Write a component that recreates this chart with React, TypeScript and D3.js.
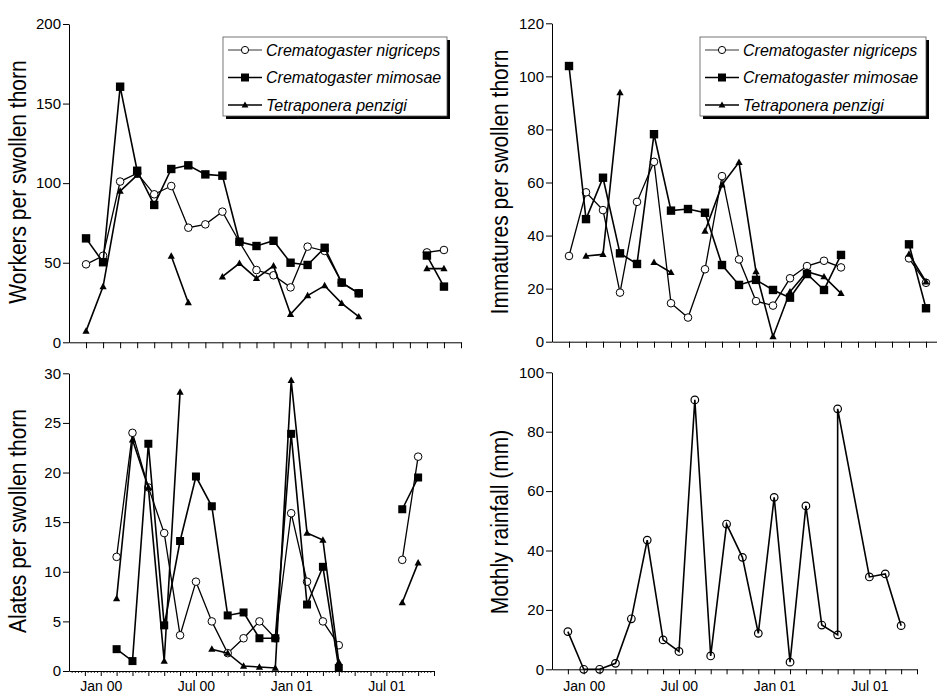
import React, { useEffect, useRef } from 'react';
import * as d3 from 'd3';

// x = month index: 0 = Dec 99, 1 = Jan 00 ... 21 = Sep 01 (null = no sample)
const months = d3.range(0, 22);
const tickMonths = d3.range(0, 23);
const labelMonths = [1, 7, 13, 19];
const labelTexts = ['Jan 00', 'Jul 00', 'Jan 01', 'Jul 01'];

const seriesNames = ['Crematogaster nigriceps', 'Crematogaster mimosae', 'Tetraponera penzigi'];

// workers per swollen thorn
const nigWorkers = [49, 54.4, 101, 106.2, 93, 98.2, 72, 74.1, 82.1, 63, 45.4, 42.1, 34.5, 60.1, 57.4, 37.5, 30.8, null, null, null, 56.5, 58];
const mimWorkers = [65.3, 50.3, 160.6, 107.8, 86.3, 108.9, 111.2, 105.5, 104.7, 63.2, 60.5, 63.8, 50, 48.6, 59.4, 37.5, 30.8, null, null, null, 54.5, 35];
const penWorkers = [7, 35, 95, 105, null, 54.2, 24.9, null, 41.2, 49.6, 40.2, 48.1, 17.6, 29.3, 35.6, 24.5, 16.1, null, null, null, 46.3, 46.3];

// immatures per swollen thorn
const nigImm = [32.3, 56.3, 49.6, 18.5, 52.7, 67.8, 14.5, 9.1, 27.3, 62.4, 31, 15.3, 13.6, 23.9, 28.5, 30.5, 28, null, null, null, 31.4, 22.2];
const mimImm = [103.9, 46.2, 61.8, 33.3, 29.3, 78.2, 49.4, 50, 48.6, 28.9, 21.4, 23.3, 19.5, 16.6, 25.5, 19.5, 32.7, null, null, null, 36.7, 12.6];
const penImm = [null, 32.3, 32.9, 93.9, null, 29.9, 26.1, null, 41.7, 59.1, 67.6, 26.4, 1.9, 18.8, 26.4, 24.5, 18.2, null, null, null, 33, 22.6];

// alates per swollen thorn
const nigAlates = [null, null, 11.5, 24, 18.5, 13.9, 3.6, 9, 5, 1.8, 3.3, 5, 3.3, 15.9, 9, 5, 2.6, null, null, null, 11.2, 21.6];
const mimAlates = [null, null, 2.2, 1, 22.9, 4.6, 13.1, 19.6, 16.6, 5.6, 5.9, 3.3, 3.3, 23.9, 6.7, 10.5, 0.3, null, null, null, 16.3, 19.5];
const penAlates = [null, null, 7.3, 23.3, 18.5, 1, 28.1, null, 2.2, 1.8, 0.5, 0.4, 0.3, 29.3, 13.9, 13.2, 0.9, null, null, null, 6.9, 10.9];

// monthly rainfall (mm)
const rainMonths = [0, 1, 2, 3, 4, 5, 6, 7, 8, 9, 10, 11, 12, 13, 14, 15, 16, 17, 17, 19, 20, 21];
const rainfall = [12.7, 0, 0, 2, 17, 43.5, 9.9, 6, 90.7, 4.5, 48.9, 37.7, 12.1, 57.9, 2.4, 55, 14.9, 11.6, 87.7, 31.1, 32.1, 14.7];

const FONT = '"Liberation Sans", Arial, Helvetica, sans-serif';

const App = () => {
  const svgRef = useRef(null);

  useEffect(() => {
    const svg = d3.select(svgRef.current);
    svg.selectAll('*').remove();

    const drawMarker = (g, kind, x, y, s) => {
      if (kind === 'circle') {
        g.append('circle').attr('cx', x).attr('cy', y).attr('r', s)
          .attr('fill', 'white').attr('stroke', 'black').attr('stroke-width', 1);
      } else if (kind === 'ring') {
        g.append('circle').attr('cx', x).attr('cy', y).attr('r', s)
          .attr('fill', 'none').attr('stroke', 'black').attr('stroke-width', 1.2);
      } else if (kind === 'square') {
        g.append('rect').attr('x', x - s).attr('y', y - s).attr('width', 2 * s).attr('height', 2 * s)
          .attr('fill', 'black');
      } else {
        g.append('path')
          .attr('d', `M${x},${y - s}L${x + s * 0.95},${y + s * 0.7}L${x - s * 0.95},${y + s * 0.7}Z`)
          .attr('fill', 'black');
      }
    };

    const panel = (cfg) => {
      const x = d3.scaleLinear().domain([-1, 22]).range(cfg.xr);
      const y = d3.scaleLinear().domain([0, cfg.ymax]).range(cfg.yr);
      const g = svg.append('g');

      // y axis
      const ya = g.append('g')
        .attr('transform', `translate(${cfg.xr[0]},0)`)
        .call(d3.axisLeft(y).tickValues(d3.range(0, cfg.ymax + 1, cfg.ystep)).tickSize(6).tickSizeOuter(0).tickPadding(2));
      ya.selectAll('text').attr('font-size', 15).attr('font-family', FONT).attr('fill', 'black');

      // x axis
      const labelMap = new Map(labelMonths.map((m, i) => [m, labelTexts[i]]));
      const xa = g.append('g')
        .attr('transform', `translate(0,${cfg.yr[0]})`)
        .call(d3.axisBottom(x).tickValues(tickMonths).tickSize(cfg.tickLen).tickSizeOuter(0)
          .tickPadding(cfg.labelPad)
          .tickFormat(d => (cfg.labels ? labelMap.get(d) || '' : '')));
      xa.selectAll('text').attr('font-size', 14).attr('font-family', FONT).attr('fill', 'black');
      g.selectAll('.domain').attr('stroke', 'black');

      if (cfg.minor) {
        const minor = d3.range(-1, 22.01, 0.2).filter(v => Math.abs(v - Math.round(v)) > 0.01);
        g.append('g').selectAll('line').data(minor).enter().append('line')
          .attr('x1', d => x(d)).attr('x2', d => x(d))
          .attr('y1', cfg.yr[0]).attr('y2', cfg.yr[0] + 2)
          .attr('stroke', 'black').attr('stroke-width', 0.8);
      }

      // title
      g.append('text')
        .attr('transform', `translate(${cfg.tx},${cfg.ty}) rotate(-90) scale(1,1.1)`)
        .attr('text-anchor', 'middle')
        .attr('font-size', 21).attr('font-family', FONT)
        .text(cfg.title);

      // series
      cfg.series.forEach(s => {
        const pts = s.xs.map((m, i) => ({ m, v: s.values[i] }));
        const line = d3.line().defined(d => d.v != null).x(d => x(d.m)).y(d => y(d.v));
        g.append('path').datum(pts).attr('d', line)
          .attr('fill', 'none').attr('stroke', 'black').attr('stroke-width', s.width);
        const mg = g.append('g');
        pts.filter(d => d.v != null).forEach(d => drawMarker(mg, s.marker, x(d.m), y(d.v), s.size));
      });

      // legend
      if (cfg.legend) {
        const [lx, ly, lw, lh] = cfg.legend;
        g.append('rect').attr('x', lx + 3).attr('y', ly + 3).attr('width', lw).attr('height', lh).attr('fill', 'black');
        g.append('rect').attr('x', lx).attr('y', ly).attr('width', lw).attr('height', lh)
          .attr('fill', 'white').attr('stroke', '#555').attr('stroke-width', 0.8);
        const kinds = ['circle', 'square', 'triangle'];
        const widths = [0.8, 1.6, 1.6];
        const sizes = [3.6, 4, 3.6];
        seriesNames.forEach((name, i) => {
          const ry = ly + 13 + i * 27.5;
          g.append('line').attr('x1', lx + 5).attr('x2', lx + 39).attr('y1', ry).attr('y2', ry)
            .attr('stroke', 'black').attr('stroke-width', widths[i]);
          drawMarker(g, kinds[i], lx + 22, ry, sizes[i]);
          g.append('text').attr('x', lx + 43).attr('y', ry + 5.5)
            .attr('font-size', 16).attr('font-style', 'italic').attr('font-family', FONT)
            .text(name);
        });
      }
    };

    const antSeries = (a, b, c, sq) => [
      { values: a, xs: months, marker: 'circle', size: 3.8, width: 1.3 },
      { values: b, xs: months, marker: 'square', size: sq, width: 1.6 },
      { values: c, xs: months, marker: 'triangle', size: 3.8, width: 1.6 },
    ];

    panel({
      xr: [69, 461], yr: [342.3, 24], ymax: 200, ystep: 50, tickLen: 6, labelPad: 3, labels: false,
      title: 'Workers per swollen thorn', tx: 26, ty: 182,
      series: antSeries(nigWorkers, mimWorkers, penWorkers, 4.2),
      legend: [223, 37, 224, 79],
    });
    panel({
      xr: [552, 943], yr: [341.7, 23.3], ymax: 120, ystep: 20, tickLen: 6, labelPad: 3, labels: false,
      title: 'Immatures per swollen thorn', tx: 508, ty: 182,
      series: antSeries(nigImm, mimImm, penImm, 4.2),
      legend: [700, 37, 226, 79],
    });
    panel({
      xr: [69, 434], yr: [671, 373.3], ymax: 30, ystep: 5, tickLen: 5, labelPad: 5, labels: true, minor: true,
      title: 'Alates per swollen thorn', tx: 26, ty: 521,
      series: antSeries(nigAlates, mimAlates, penAlates, 4),
    });
    panel({
      xr: [552, 917], yr: [669.3, 372.3], ymax: 100, ystep: 20, tickLen: 5, labelPad: 7, labels: true,
      title: 'Mothly rainfall (mm)', tx: 508, ty: 522,
      series: [{ values: rainfall, xs: rainMonths, marker: 'ring', size: 3.8, width: 1.6 }],
    });
  }, []);

  return (
    <svg ref={svgRef} width={937} height={695}
      style={{ position: 'absolute', left: 0, top: 0, background: 'white' }} />
  );
};

export default App;
